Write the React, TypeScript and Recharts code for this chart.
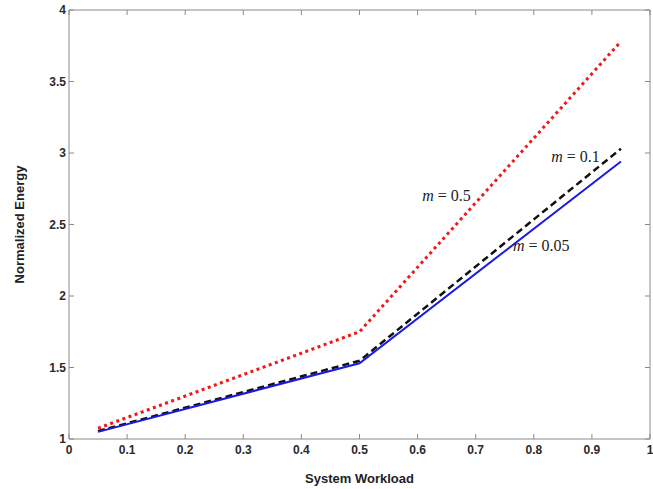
import React from 'react'
import { LineChart, Line, XAxis, YAxis, ReferenceDot } from 'recharts'

const workload = [0.05, 0.5, 0.95]
const energyM005 = [1.05, 1.53, 2.94]
const energyM01 = [1.055, 1.547, 3.03]
const energyM05 = [1.075, 1.75, 3.78]

const xTicks = [0, 0.1, 0.2, 0.3, 0.4, 0.5, 0.6, 0.7, 0.8, 0.9, 1]
const yTicks = [1, 1.5, 2, 2.5, 3, 3.5, 4]

// where the m = ... notes sit, in data units
const notes = [
  { x: 0.608, y: 2.664, text: '0.5' },
  { x: 0.83, y: 2.94, text: '0.1' },
  { x: 0.764, y: 2.315, text: '0.05' },
]

const data = workload.map((w, i) => ({
  w,
  m005: energyM005[i],
  m01: energyM01[i],
  m05: energyM05[i],
}))

const axisGray = '#8a8a8a'
const tickFont = 'Arial, "Liberation Sans", sans-serif'

const fmt = (v: number) => String(v)

const LeftTick = ({ x, y, payload }: any) => (
  <g>
    <line x1={x} y1={y} x2={x + 5} y2={y} stroke={axisGray} />
    <text x={x - 3} y={y} textAnchor="end" dominantBaseline="central"
      fontFamily={tickFont} fontWeight="bold" fontSize={12} fill="#2a2a2a">
      {fmt(payload.value)}
    </text>
  </g>
)

const BottomTick = ({ x, y, payload }: any) => (
  <g>
    <line x1={x} y1={y} x2={x} y2={y - 5} stroke={axisGray} />
    <text x={x} y={y + 15} textAnchor="middle"
      fontFamily={tickFont} fontWeight="bold" fontSize={12} fill="#2a2a2a">
      {fmt(payload.value)}
    </text>
  </g>
)

const RightTick = ({ x, y }: any) => (
  <line x1={x} y1={y} x2={x - 5} y2={y} stroke={axisGray} />
)

const TopTick = ({ x, y }: any) => (
  <line x1={x} y1={y} x2={x} y2={y + 5} stroke={axisGray} />
)

const noteLabel = (text: string) => (props: any) => {
  const { viewBox } = props
  return (
    <text x={viewBox.x} y={viewBox.y} fontFamily='"Liberation Serif", "Times New Roman", serif'
      fontSize={16} fill="#222">
      <tspan fontStyle="italic">m</tspan> = {text}
    </text>
  )
}

const App = () => {
  return (
    <div style={{ position: 'absolute', left: 0, top: 0, background: '#fff' }}>
      <LineChart width={653} height={489} data={data}
        margin={{ top: 9, right: 2, left: 0, bottom: 0 }}>
        <XAxis dataKey="w" type="number" domain={[0, 1]} ticks={xTicks} interval={0}
          tickSize={0} tickMargin={0} tick={<BottomTick />} height={50}
          axisLine={{ stroke: axisGray }}
          label={{
            content: (p: any) => (
              <text x={p.viewBox.x + p.viewBox.width / 2} y={483} textAnchor="middle"
                fontFamily={tickFont} fontWeight="bold" fontSize={13} fill="#222">
                System Workload
              </text>
            ),
          }} />
        <XAxis xAxisId="t" dataKey="w" orientation="top" type="number" domain={[0, 1]} ticks={xTicks}
          interval={0} tickSize={0} tickMargin={0} tick={<TopTick />} height={1}
          axisLine={{ stroke: axisGray }} />
        <YAxis type="number" domain={[1, 4]} ticks={yTicks} interval={0}
          tickSize={0} tickMargin={0} tick={<LeftTick />} width={69}
          axisLine={{ stroke: axisGray }}
          label={{
            content: (p: any) => {
              const cy = p.viewBox.y + p.viewBox.height / 2
              return (
                <text x={24} y={cy} transform={`rotate(-90 24 ${cy})`} textAnchor="middle"
                  fontFamily={tickFont} fontWeight="bold" fontSize={13} fill="#222">
                  Normalized Energy
                </text>
              )
            },
          }} />
        <YAxis yAxisId="r" orientation="right" type="number" domain={[1, 4]} ticks={yTicks}
          interval={0} tickSize={0} tickMargin={0} tick={<RightTick />} width={1}
          axisLine={{ stroke: axisGray }} />
        {/* invisible series so the box axes on top/right get drawn */}
        <Line xAxisId="t" yAxisId="r" dataKey="m005" stroke="none" strokeWidth={0}
          dot={false} activeDot={false} legendType="none" isAnimationActive={false} />
        <Line dataKey="m05" type="linear" stroke="#f01818" strokeWidth={3}
          strokeDasharray="3 3.5" dot={false} isAnimationActive={false} />
        <Line dataKey="m01" type="linear" stroke="#111" strokeWidth={2.5}
          strokeDasharray="7 4" dot={false} isAnimationActive={false} />
        <Line dataKey="m005" type="linear" stroke="#1a1ae0" strokeWidth={2}
          dot={false} isAnimationActive={false} />
        {notes.map((n) => (
          <ReferenceDot key={n.text} x={n.x} y={n.y} r={0} fill="none" stroke="none"
            ifOverflow="visible" label={{ content: noteLabel(n.text) }} />
        ))}
      </LineChart>
    </div>
  )
}

export default App
